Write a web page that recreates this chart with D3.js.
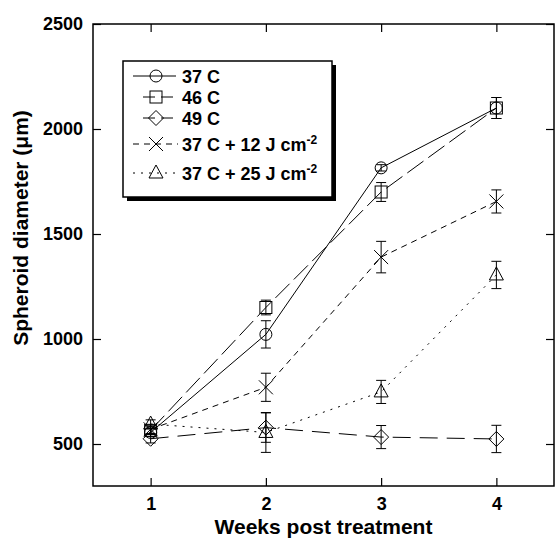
<!DOCTYPE html>
<html>
<head>
<meta charset="utf-8">
<script src="https://cdn.jsdelivr.net/npm/d3@7"></script>
<style>
body { margin: 0; background: #fff; }
text { font-family: "Liberation Sans", Arial, sans-serif; font-weight: bold; }
</style>
</head>
<body>
<div id="chart"></div>
<script>
var weeks = [1, 2, 3, 4];
var seriesNames = ["37 C", "46 C", "49 C", "37 C + 12 J cm", "37 C + 25 J cm"];
var c37 = [555, 1022, 1815, 2100];
var c37Err = [20, 65, 15, 50];
var c46 = [565, 1150, 1700, 2100];
var c46Err = [20, 35, 45, 50];
var c49 = [525, 578, 533, 524];
var c49Err = [20, 70, 55, 65];
var c37j12 = [570, 770, 1390, 1655];
var c37j12Err = [20, 67, 75, 55];
var c37j25 = [595, 555, 748, 1305];
var c37j25Err = [20, 95, 55, 65];
var yTicks = [500, 1000, 1500, 2000, 2500];

var margin = {top: 24, right: 1, bottom: 52, left: 93};
var width = 555 - margin.left - margin.right,
    height = 538 - margin.top - margin.bottom;

var svg = d3.select("#chart").append("svg")
    .attr("width", 555)
    .attr("height", 538);
var g = svg.append("g").attr("transform", "translate(" + margin.left + "," + margin.top + ")");

var x = d3.scaleLinear().domain([0.5, 4.5]).range([0, width]);
var y = d3.scaleLinear().domain([300, 2500]).range([height, 0]);

var series = [
    {name: seriesNames[0], vals: c37, err: c37Err, marker: "circle", dash: null},
    {name: seriesNames[1], vals: c46, err: c46Err, marker: "square", dash: "20,6"},
    {name: seriesNames[2], vals: c49, err: c49Err, marker: "diamond", dash: "18,9"},
    {name: seriesNames[3], vals: c37j12, err: c37j12Err, marker: "cross", dash: "6,5"},
    {name: seriesNames[4], vals: c37j25, err: c37j25Err, marker: "triangle", dash: "2,6"}
];

// axes (ticks inside on all four sides)
g.append("g").attr("transform", "translate(0," + height + ")")
    .call(d3.axisBottom(x).tickValues(weeks).tickSize(-8).tickPadding(11).tickFormat(d3.format("d")));
g.append("g").call(d3.axisTop(x).tickValues(weeks).tickSize(-8).tickFormat(""));
g.append("g").call(d3.axisLeft(y).tickValues(yTicks).tickSize(-8).tickPadding(10).tickFormat(d3.format("d")));
g.append("g").attr("transform", "translate(" + width + ",0)")
    .call(d3.axisRight(y).tickValues(yTicks).tickSize(-8).tickFormat(""));
g.selectAll(".domain").remove();
g.selectAll(".tick line").attr("stroke", "#000").attr("stroke-width", 1.2);
g.selectAll(".tick text").attr("font-size", 18).attr("fill", "#000")
    .style("font-family", "Liberation Sans, Arial, sans-serif").style("font-weight", "bold");

g.append("rect").attr("width", width).attr("height", height)
    .attr("fill", "none").attr("stroke", "#000").attr("stroke-width", 1.5);

function drawMarker(sel, type, cx, cy) {
    var s = sel.append("g").attr("transform", "translate(" + cx + "," + cy + ")")
        .attr("fill", "none").attr("stroke", "#000").attr("stroke-width", 1);
    if (type == "circle") {
        s.append("circle").attr("r", 6);
    } else if (type == "square") {
        s.append("rect").attr("x", -6).attr("y", -6).attr("width", 12).attr("height", 12);
    } else if (type == "diamond") {
        s.append("path").attr("d", "M0,-7.5L7.5,0L0,7.5L-7.5,0Z");
    } else if (type == "cross") {
        s.append("path").attr("d", "M-7,-7L7,7M-7,7L7,-7");
    } else if (type == "triangle") {
        s.append("path").attr("d", "M0,-8L7,5L-7,5Z");
    }
}

var line = d3.line()
    .x(function(d, i) { return x(weeks[i]); })
    .y(function(d) { return y(d); });

series.forEach(function(s) {
    g.append("path").datum(s.vals)
        .attr("d", line)
        .attr("fill", "none")
        .attr("stroke", "#000")
        .attr("stroke-width", 1)
        .attr("stroke-dasharray", s.dash);
    s.vals.forEach(function(v, i) {
        var cx = x(weeks[i]);
        var y0 = y(v - s.err[i]), y1 = y(v + s.err[i]);
        g.append("path")
            .attr("d", "M" + cx + "," + y0 + "V" + y1 + "M" + (cx - 5) + "," + y0 + "H" + (cx + 5) + "M" + (cx - 5) + "," + y1 + "H" + (cx + 5))
            .attr("stroke", "#000").attr("stroke-width", 1).attr("fill", "none");
        drawMarker(g, s.marker, cx, y(v));
    });
});

// legend
var leg = svg.append("g").attr("transform", "translate(123,61)");
leg.append("rect").attr("x", 4).attr("y", 4).attr("width", 209).attr("height", 136).attr("fill", "#000");
leg.append("rect").attr("width", 209).attr("height", 136).attr("fill", "#fff")
    .attr("stroke", "#000").attr("stroke-width", 1.5);
var legY = [15, 36, 57, 83, 112];
var legLine = [[10, 53], [20, 52], [20, 52], [10, 55], [10, 55]];
series.forEach(function(s, i) {
    leg.append("line")
        .attr("x1", legLine[i][0]).attr("x2", legLine[i][1])
        .attr("y1", legY[i]).attr("y2", legY[i])
        .attr("stroke", "#000").attr("stroke-width", 1)
        .attr("stroke-dasharray", i == 3 ? "6,5" : (i == 4 ? "2,6" : (i == 0 ? null : "12,6")));
    drawMarker(leg, s.marker, 33, legY[i]);
    var t = leg.append("text").attr("x", 59).attr("y", legY[i] + 6.5)
        .attr("font-size", 18).text(s.name);
    if (i >= 3) {
        t.append("tspan").attr("dy", -7).attr("font-size", 12).text("-2");
    }
});

// axis titles
svg.append("text")
    .attr("x", margin.left + width / 2).attr("y", 534)
    .attr("text-anchor", "middle").attr("font-size", 21)
    .text("Weeks post treatment");
svg.append("text")
    .attr("transform", "translate(28,228) rotate(-90)")
    .attr("text-anchor", "middle").attr("font-size", 21)
    .text("Spheroid diameter (\u03bcm)");
</script>
</body>
</html>
